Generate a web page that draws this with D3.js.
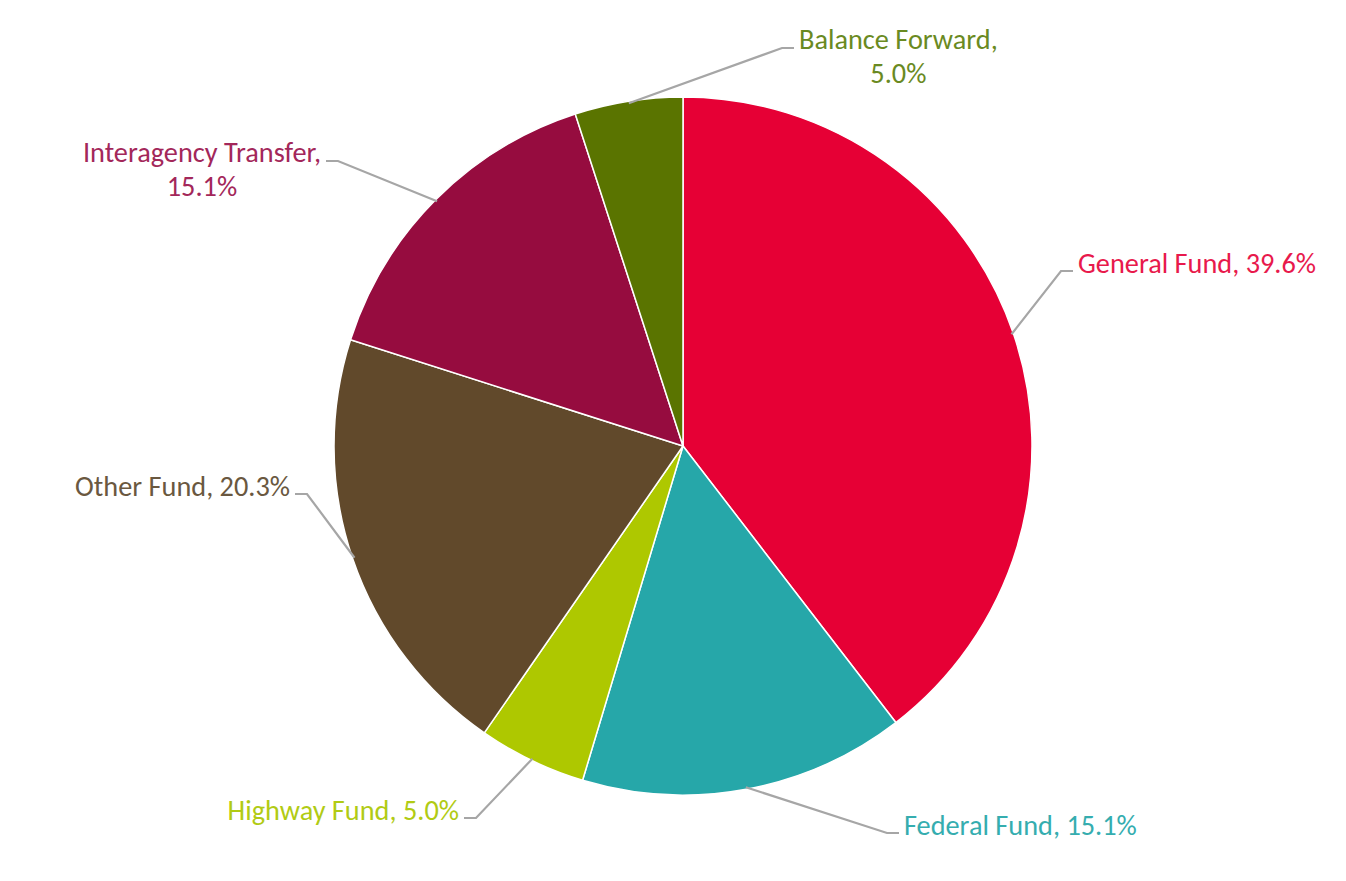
<!DOCTYPE html>
<html>
<head>
<meta charset="utf-8">
<script src="https://cdn.jsdelivr.net/npm/d3@7"></script>
<style>
  body { margin: 0; background: #fff; }
  svg { display: block; }
  .lbl { font-family: Calibri, Carlito, Lato, sans-serif; font-size: 28.3px; }
</style>
</head>
<body>
<div id="chart"></div>
<script>
const width = 1346;
const height = 881;
const cx = 683, cy = 446;
const radius = 349;

// slices, clockwise from 12 o'clock
const categories = ["General Fund", "Federal Fund", "Highway Fund", "Other Fund", "Interagency Transfer", "Balance Forward"];
const shares = [39.6, 15.1, 5.0, 20.3, 15.1, 5.0];
const sliceColors = ["#E60035", "#26A7A9", "#AEC800", "#61492B", "#960C3F", "#5A7400"];
const textColors = ["#E8194C", "#35ADAF", "#B1CB14", "#6A5840", "#A3275A", "#6A8A22"];

// label layout: elbow of the leader line, which side the text sits on, text broken into lines
const labelElbows = [[1061, 271], [887, 833], [476, 818], [307, 494], [338, 161], [782, 48]];
const labelSide = [1, 1, -1, -1, -1, 1];
const labelLines = [
  ["General Fund, 39.6%"],
  ["Federal Fund, 15.1%"],
  ["Highway Fund, 5.0%"],
  ["Other Fund, 20.3%"],
  ["Interagency Transfer,", "15.1%"],
  ["Balance Forward,", "5.0%"]
];

const svg = d3.select('#chart')
    .append('svg')
    .attr('width', width)
    .attr('height', height);

const g = svg.append('g')
    .attr('transform', `translate(${cx}, ${cy})`);

const pie = d3.pie()
    .sort(null)
    .value(d => d);

const arc = d3.arc()
    .outerRadius(radius)
    .innerRadius(0);

const arcs = pie(shares);

g.selectAll('.slice')
    .data(arcs)
    .enter().append('path')
    .attr('class', 'slice')
    .attr('d', arc)
    .attr('fill', (d, i) => sliceColors[i])
    .attr('stroke', '#fff')
    .attr('stroke-width', 1.5)
    .attr('stroke-linejoin', 'round');

// leader lines + labels
const hseg = 12, gap = 5, lineGap = 34;

arcs.forEach((d, i) => {
    const mid = (d.startAngle + d.endAngle) / 2;
    const x0 = cx + (radius - 2) * Math.sin(mid);
    const y0 = cy - (radius - 2) * Math.cos(mid);
    const [ex, ey] = labelElbows[i];
    const side = labelSide[i];
    const hx = ex + side * hseg;

    svg.append('path')
        .attr('d', `M${x0},${y0}L${ex},${ey}L${hx},${ey}`)
        .attr('fill', 'none')
        .attr('stroke', '#A6A6A6')
        .attr('stroke-width', 2.2);

    const lines = labelLines[i];
    const text = svg.append('text')
        .attr('class', 'lbl')
        .attr('fill', textColors[i]);
    const edge = hx + side * gap;

    if (lines.length === 1) {
        text.attr('x', edge)
            .attr('y', ey + 2)
            .attr('text-anchor', side > 0 ? 'start' : 'end')
            .text(lines[0]);
    } else {
        const spans = text.selectAll('tspan')
            .data(lines)
            .enter().append('tspan')
            .attr('y', (l, j) => ey + 1 + j * lineGap)
            .text(l => l);
        const w = d3.max(spans.nodes(), n => n.getComputedTextLength());
        const mx = edge + side * w / 2;
        text.attr('text-anchor', 'middle');
        spans.attr('x', mx);
    }
});
</script>
</body>
</html>
